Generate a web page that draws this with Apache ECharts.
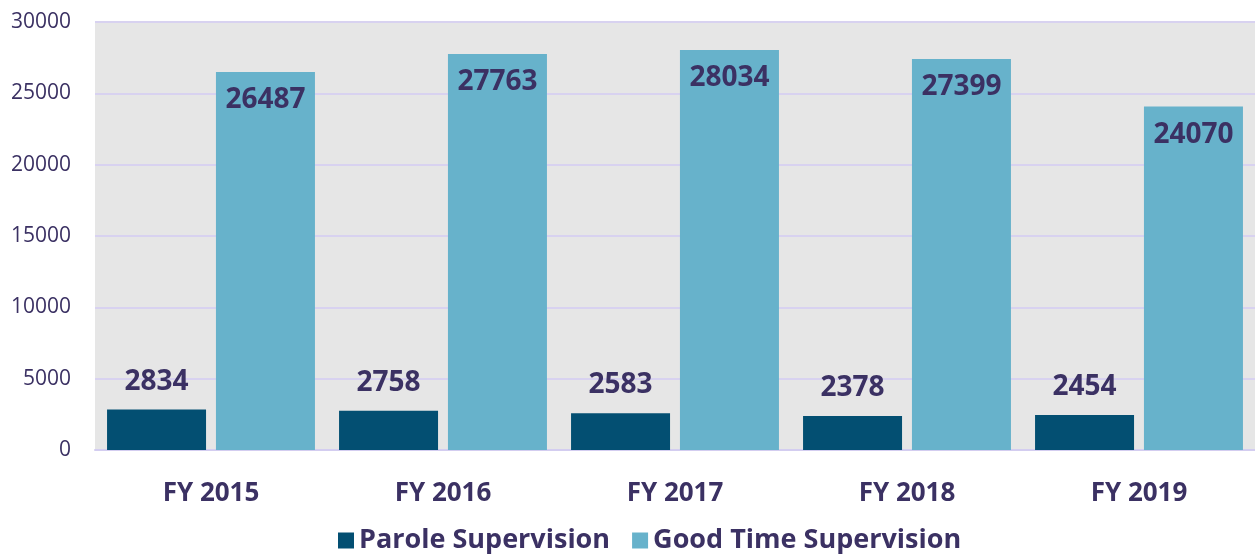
<!DOCTYPE html>
<html>
<head>
<meta charset="utf-8">
<script src="https://cdn.jsdelivr.net/npm/echarts@6/dist/echarts.min.js"></script>
<style>
  html, body { margin: 0; padding: 0; background: #fff; }
  #chart { width: 1255px; height: 556px; }
</style>
</head>
<body>
<div id="chart"></div>
<script>
// data
var years = ['FY 2015', 'FY 2016', 'FY 2017', 'FY 2018', 'FY 2019'];
var parole = [2834, 2758, 2583, 2378, 2454];
var goodTime = [26487, 27763, 28034, 27399, 24070];
var seriesNames = ['Parole Supervision', 'Good Time Supervision'];

var textColor = '#3b3163';
var fontName = 'Open Sans';

var myChart = echarts.init(document.getElementById('chart'));

var option = {
    animation: false,
    textStyle: { fontFamily: fontName },
    grid: {
        left: 95, right: 0, top: 22, bottom: 106,
        show: true, backgroundColor: '#e6e6e6', borderWidth: 0
    },
    legend: {
        top: 522,
        left: 333,
        itemWidth: 16, itemHeight: 16, itemGap: 22,
        icon: 'rect',
        textStyle: { color: textColor, fontSize: 27, fontWeight: 'bold', fontFamily: fontName }
    },
    xAxis: {
        type: 'category',
        data: years,
        axisTick: { show: false },
        axisLine: { lineStyle: { color: '#d3cdf0', width: 2 } },
        axisLabel: { color: textColor, fontSize: 26, fontWeight: 'bold', margin: 31 }
    },
    yAxis: {
        type: 'value',
        min: 0, max: 30000, interval: 5000,
        axisLabel: {
            color: textColor, fontSize: 21, margin: 24,
            formatter: function (v) { return String(v); }
        },
        splitLine: { lineStyle: { color: '#d8d2f0', width: 2 } }
    },
    series: [{
        name: seriesNames[0],
        type: 'bar',
        data: parole,
        barWidth: 99,
        barGap: '10%',
        itemStyle: { color: '#034f72' },
        label: {
            show: true, position: 'top', distance: 14,
            color: textColor, fontSize: 28, fontWeight: 'bold'
        }
    }, {
        name: seriesNames[1],
        type: 'bar',
        data: goodTime,
        barWidth: 99,
        barGap: '10%',
        itemStyle: { color: '#67b2cb' },
        label: {
            show: true, position: 'insideTop', distance: 14,
            color: textColor, fontSize: 28, fontWeight: 'bold'
        }
    }]
};

myChart.setOption(option);
</script>
</body>
</html>
